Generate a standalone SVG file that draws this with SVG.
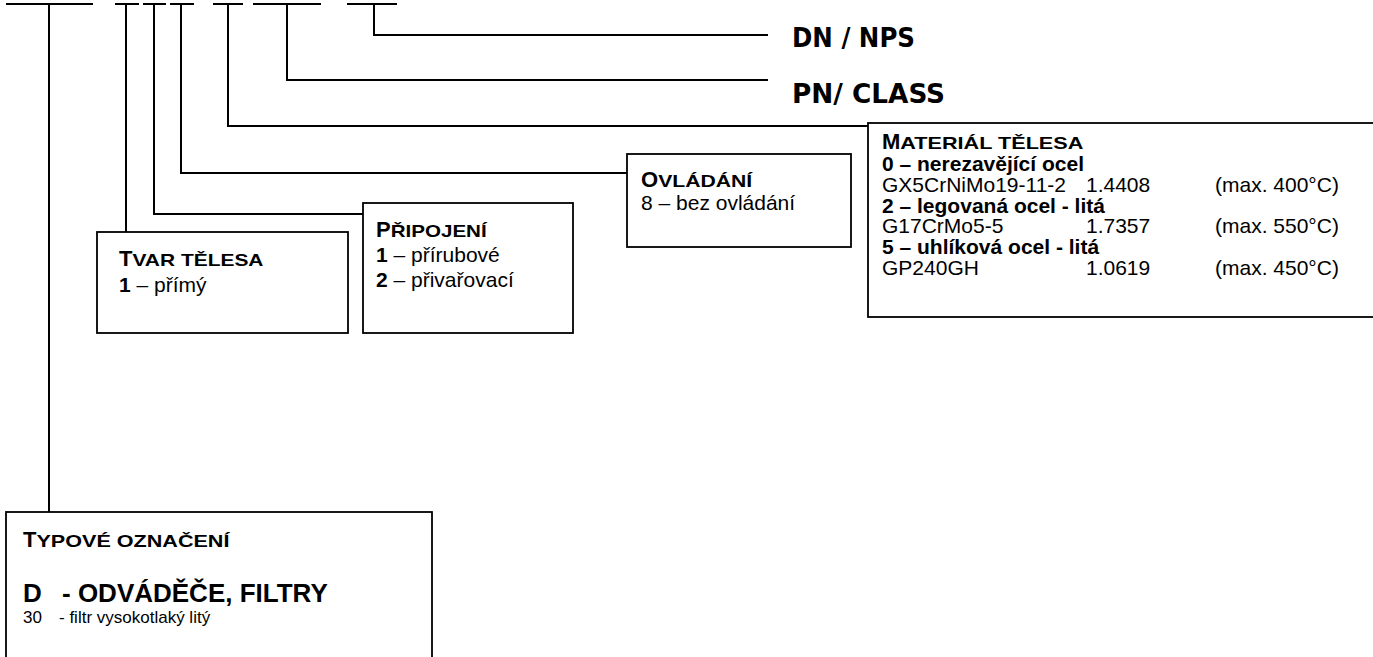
<svg xmlns="http://www.w3.org/2000/svg" width="1373" height="657" viewBox="0 0 1373 657">
<style>
  .ln { stroke:#000; stroke-width:2; fill:none; }
  .box { stroke:#000; stroke-width:1.8; fill:#fff; }
  .t { font-family:"Liberation Sans", Arial, sans-serif; font-size:21px; fill:#000; }
  .b { font-weight:bold; }
  .cap { font-size:22px; }
  .sc { font-size:17px; }
  .big { font-family:"DejaVu Sans Condensed", "DejaVu Sans", Verdana, sans-serif; font-weight:bold; font-size:27px; fill:#000; }
  .hd { font-size:26px; }
  .sm { font-size:17px; }
</style>
<rect width="1373" height="657" fill="#fff"/>
<g id="connectors">
  <path class="ln" d="M6 4H93M115 4H139M143 4H166M170 4H194M213 4H243M253 4H321M347 4H397"/>
  <path class="ln" d="M374 4V35H768"/>
  <path class="ln" d="M287 4V80H768"/>
  <path class="ln" d="M228 4V126H868"/>
  <path class="ln" d="M181 4V173H627"/>
  <path class="ln" d="M154 4V214H363"/>
  <path class="ln" d="M126 4V232"/>
  <path class="ln" d="M49 4V512"/>
</g>
<g id="dn-nps">
  <text class="big" x="792" y="47" textLength="123" lengthAdjust="spacingAndGlyphs">DN / NPS</text>
</g>
<g id="pn-class">
  <text class="big" x="792" y="103" textLength="153" lengthAdjust="spacingAndGlyphs">PN/ CLASS</text>
</g>
<g id="material">
  <rect class="box" x="868" y="123" width="510" height="194"/>
  <text class="t b" x="882" y="148.5"><tspan class="cap">M</tspan><tspan class="sc" textLength="183" lengthAdjust="spacingAndGlyphs">ATERIÁL TĚLESA</tspan></text>
  <text class="t b" x="882" y="171">0 – nerezavějící ocel</text>
  <text class="t" x="882" y="192">GX5CrNiMo19-11-2</text>
  <text class="t" x="1086" y="192">1.4408</text>
  <text class="t" x="1215" y="192">(max. 400°C)</text>
  <text class="t b" x="882" y="212.5">2 – legovaná ocel - litá</text>
  <text class="t" x="882" y="233">G17CrMo5-5</text>
  <text class="t" x="1086" y="233">1.7357</text>
  <text class="t" x="1215" y="233">(max. 550°C)</text>
  <text class="t b" x="882" y="254">5 – uhlíková ocel - litá</text>
  <text class="t" x="882" y="275">GP240GH</text>
  <text class="t" x="1086" y="275">1.0619</text>
  <text class="t" x="1215" y="275">(max. 450°C)</text>
</g>
<g id="ovladani">
  <rect class="box" x="627" y="154" width="224" height="93"/>
  <text class="t b" x="641" y="187"><tspan class="cap">O</tspan><tspan class="sc" textLength="94" lengthAdjust="spacingAndGlyphs">VLÁDÁNÍ</tspan></text>
  <text class="t" x="641" y="210">8 – bez ovládání</text>
</g>
<g id="pripojeni">
  <rect class="box" x="363" y="203" width="210" height="130"/>
  <text class="t b" x="376" y="237"><tspan class="cap">P</tspan><tspan class="sc" textLength="96" lengthAdjust="spacingAndGlyphs">ŘIPOJENÍ</tspan></text>
  <text class="t" x="376" y="262"><tspan class="b">1</tspan> – přírubové</text>
  <text class="t" x="376" y="287"><tspan class="b">2</tspan> – přivařovací</text>
</g>
<g id="tvar">
  <rect class="box" x="97" y="232" width="251" height="101"/>
  <text class="t b" x="119" y="266"><tspan class="cap">T</tspan><tspan class="sc" textLength="131" lengthAdjust="spacingAndGlyphs">VAR TĚLESA</tspan></text>
  <text class="t" x="119" y="292"><tspan class="b">1</tspan> – přímý</text>
</g>
<g id="typove">
  <rect class="box" x="6" y="512" width="426" height="160"/>
  <text class="t b" x="23" y="547"><tspan class="cap">T</tspan><tspan class="sc" textLength="193" lengthAdjust="spacingAndGlyphs">YPOVÉ OZNAČENÍ</tspan></text>
  <text class="t b hd" x="23" y="602"><tspan>D</tspan><tspan x="62">- ODVÁDĚČE, FILTRY</tspan></text>
  <text class="t sm" x="23" y="623"><tspan>30</tspan><tspan x="59">- filtr vysokotlaký litý</tspan></text>
</g>
</svg>
